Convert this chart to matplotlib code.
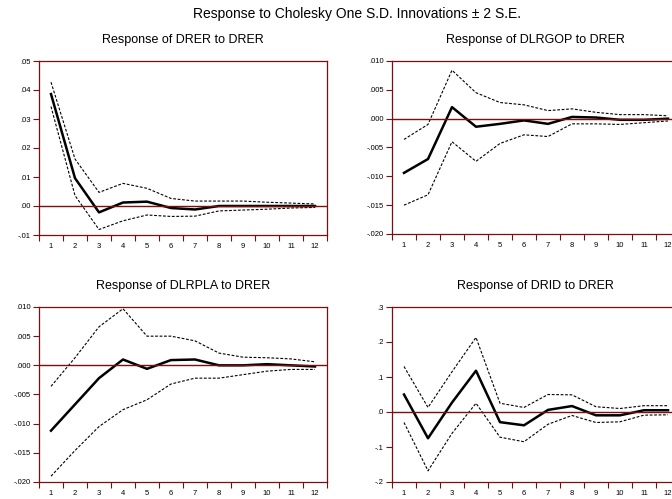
import matplotlib
matplotlib.use("Agg")
import matplotlib.pyplot as plt
from matplotlib.ticker import FixedLocator, FuncFormatter, NullFormatter

plt.rcParams['font.family'] = ['Liberation Sans', 'DejaVu Sans']

periods = list(range(1, 13))

drer_resp = [0.0386, 0.0096, -0.0022, 0.0012, 0.0015, -0.0007, -0.0012, 0.0000, 0.0000, 0.0000, 0.0000, 0.0000]
drer_up = [0.0427, 0.0162, 0.0047, 0.0078, 0.0061, 0.0026, 0.0017, 0.0017, 0.0017, 0.0013, 0.0010, 0.0007]
drer_lo = [0.0343, 0.0036, -0.0081, -0.0051, -0.0031, -0.0036, -0.0035, -0.0017, -0.0014, -0.0011, -0.0007, -0.0005]

gop_resp = [-0.0094, -0.0070, 0.0020, -0.0014, -0.0009, -0.0003, -0.0009, 0.0003, 0.0002, -0.0002, -0.0002, 0.0000]
gop_up = [-0.0036, -0.0010, 0.0084, 0.0045, 0.0028, 0.0024, 0.0014, 0.0017, 0.0011, 0.0007, 0.0007, 0.0005]
gop_lo = [-0.0150, -0.0132, -0.0040, -0.0074, -0.0043, -0.0028, -0.0031, -0.0009, -0.0009, -0.0010, -0.0007, -0.0004]

pla_resp = [-0.0112, -0.0067, -0.0022, 0.0010, -0.0006, 0.0009, 0.0010, 0.0000, 0.0000, 0.0002, 0.0000, -0.0002]
pla_up = [-0.0036, 0.0013, 0.0066, 0.0097, 0.0050, 0.0050, 0.0042, 0.0021, 0.0014, 0.0013, 0.0011, 0.0006]
pla_lo = [-0.0190, -0.0146, -0.0105, -0.0076, -0.0059, -0.0032, -0.0022, -0.0022, -0.0016, -0.0010, -0.0007, -0.0007]

rid_resp = [0.050, -0.075, 0.027, 0.118, -0.029, -0.038, 0.006, 0.017, -0.0095, -0.0095, 0.005, 0.005]
rid_up = [0.130, 0.013, 0.115, 0.213, 0.025, 0.013, 0.050, 0.049, 0.015, 0.010, 0.018, 0.018]
rid_lo = [-0.030, -0.168, -0.061, 0.025, -0.072, -0.085, -0.035, -0.010, -0.030, -0.028, -0.009, -0.008]

titles = ["Response of DRER to DRER", "Response of DLRGOP to DRER",
          "Response of DLRPLA to DRER", "Response of DRID to DRER"]
ylims = [(-0.01, 0.05), (-0.02, 0.01), (-0.02, 0.01), (-0.2, 0.3)]
yticks = [[-0.01, 0.0, 0.01, 0.02, 0.03, 0.04, 0.05],
          [-0.020, -0.015, -0.010, -0.005, 0.0, 0.005, 0.010],
          [-0.020, -0.015, -0.010, -0.005, 0.0, 0.005, 0.010],
          [-0.2, -0.1, 0.0, 0.1, 0.2, 0.3]]
decimals = [2, 3, 3, 1]
series = [(drer_resp, drer_up, drer_lo), (gop_resp, gop_up, gop_lo),
          (pla_resp, pla_up, pla_lo), (rid_resp, rid_up, rid_lo)]

W, H = 672, 499
fig = plt.figure(figsize=(W / 100, H / 100), dpi=100)
# pixel boxes: left, right, top, bottom
boxes = [(39, 327, 61, 235), (392, 680, 61, 234), (39, 327, 307, 482), (392, 680, 307, 482)]
title_y = [40, 40, 286, 286]
red = '#7a0f0f'

def make_fmt(d):
    def f(v, pos):
        s = f"{v:.{d}f}"
        if s.startswith("-0"):
            s = "-" + s[2:]
        elif s.startswith("0"):
            s = s[1:]
        return s
    return f

for i, (box, (resp, up, lo)) in enumerate(zip(boxes, series)):
    l, r, t, b = box
    ax = fig.add_axes([l / W, 1 - b / H, (r - l) / W, (b - t) / H])
    ax.plot(periods, up, color='black', lw=0.8, ls=(0, (2.5, 1.5)))
    ax.plot(periods, lo, color='black', lw=0.8, ls=(0, (2.5, 1.5)))
    ax.plot(periods, resp, color='black', lw=1.8)
    ax.axhline(0, color=red, lw=1.0)
    ax.set_xlim(0.5, 12.5)
    ax.set_ylim(*ylims[i])
    ax.set_yticks(yticks[i])
    ax.yaxis.set_major_formatter(FuncFormatter(make_fmt(decimals[i])))
    ax.xaxis.set_major_locator(FixedLocator([p + 0.5 for p in [0] + periods]))
    ax.xaxis.set_major_formatter(NullFormatter())
    ax.xaxis.set_minor_locator(FixedLocator(periods))
    ax.xaxis.set_minor_formatter(FuncFormatter(lambda v, p: f"{int(round(v))}"))
    ax.tick_params(axis='x', which='major', length=4, width=0.8, color=red, direction='out')
    ax.tick_params(axis='x', which='minor', length=0, labelsize=5.5, pad=6)
    ax.tick_params(axis='y', which='major', length=4, width=0.8, color=red, labelsize=5.5, pad=2)
    for sp in ax.spines.values():
        sp.set_color(red)
        sp.set_linewidth(0.9)
    cx = (l + r) / 2 if i % 2 == 0 else 535
    fig.text(cx / W, 1 - title_y[i] / H, titles[i], ha='center', va='center', fontsize=9)

fig.text(357 / W, 1 - 14 / H, "Response to Cholesky One S.D. Innovations \u00b1 2 S.E.",
         ha='center', va='center', fontsize=10)

fig.savefig("out.png", dpi=100)
